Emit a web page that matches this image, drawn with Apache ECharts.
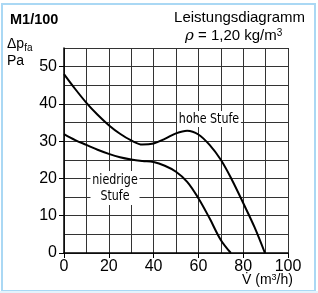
<!DOCTYPE html>
<html><head><meta charset="utf-8">
<script src="https://cdn.jsdelivr.net/npm/echarts@6/dist/echarts.min.js"></script>
<style>html,body{margin:0;padding:0;background:#fff}#c{width:318px;height:293px}</style>
</head><body><div id="c"></div>
<script>
const flowHigh = [0, 5, 10, 15, 20, 25, 30, 35, 40, 45, 50, 55, 60, 65, 70, 75, 80, 85, 89.7];
const presHigh = [48, 44, 40.3, 37.1, 34.3, 32, 30.2, 29.1, 29.4, 30.6, 32.1, 32.8, 31.8, 29, 25, 19.6, 13.4, 7, 0];
const flowLow = [0, 5, 10, 15, 20, 25, 30, 35, 40, 45, 50, 55, 60, 65, 70, 74.5];
const presLow = [31.9, 30.3, 29, 27.7, 26.6, 25.7, 25.1, 24.7, 24.4, 23.4, 21.8, 19.1, 14.7, 9.3, 3.5, 0];
const xTicks = [0, 20, 40, 60, 80, 100];
const yTicks = [0, 10, 20, 30, 40, 50];
const seriesNames = ['hohe Stufe', 'niedrige\nStufe'];

const FONT = 'Liberation Sans, Arial, sans-serif';
const NARROW = 'Liberation Sans Narrow, DejaVu Sans Condensed, sans-serif';
const chart = echarts.init(document.getElementById('c'), null, {renderer: 'canvas'});
const grid = {left: 64, top: 48, width: 224, height: 205};
chart.setOption({
  animation: false,
  backgroundColor: '#fff',
  grid: grid,
  xAxis: [
    {type: 'value', min: 0, max: 100, interval: 10, axisLabel: {show: false}, axisTick: {show: false},
     axisLine: {show: false}, splitLine: {show: true, lineStyle: {color: '#333', width: 1}}},
    {type: 'value', min: 0, max: 100, interval: 20, position: 'bottom',
     axisLine: {show: true, onZero: false, lineStyle: {color: '#000', width: 1.5}},
     axisTick: {show: true, length: 5, lineStyle: {color: '#000'}},
     splitLine: {show: false},
     axisLabel: {show: true, color: '#000', fontFamily: FONT, fontSize: 16, margin: 6,
       formatter: v => xTicks.includes(v) ? String(v) : ''}}
  ],
  yAxis: [
    {type: 'value', min: 0, max: 55, interval: 5, axisLabel: {show: false}, axisTick: {show: false},
     axisLine: {show: false}, splitLine: {show: true, lineStyle: {color: '#333', width: 1}}},
    {type: 'value', min: 0, max: 55, interval: 10, position: 'left',
     axisLine: {show: true, onZero: false, lineStyle: {color: '#000', width: 1.5}},
     axisTick: {show: true, length: 5, lineStyle: {color: '#000'}},
     splitLine: {show: false},
     axisLabel: {show: true, showMaxLabel: false, color: '#000', fontFamily: FONT, fontSize: 16, margin: 7,
       formatter: v => yTicks.includes(v) ? String(v) : ''}}
  ],
  series: [
    {name: seriesNames[0], type: 'line', xAxisIndex: 0, yAxisIndex: 0, smooth: 0.35, symbol: 'none',
     lineStyle: {color: '#000', width: 2}, data: flowHigh.map((x, i) => [x, presHigh[i]])},
    {name: seriesNames[1], type: 'line', xAxisIndex: 0, yAxisIndex: 0, smooth: 0.35, symbol: 'none',
     lineStyle: {color: '#000', width: 2}, data: flowLow.map((x, i) => [x, presLow[i]])}
  ],
  graphic: [
    {type: 'rect', shape: {x: 2, y: 4, width: 313, height: 287}, style: {fill: 'none', stroke: '#aad8f4', lineWidth: 2}, silent: true},
    {type: 'rect', left: 0, top: 291, shape: {x: 0, y: 0, width: 318, height: 2}, style: {fill: '#e3f3fc'}, silent: true},
    {type: 'text', left: 10, top: 12, style: {text: 'M1/100', fontFamily: FONT, fontWeight: 'bold', fontSize: 14.5, fill: '#000'}},
    {type: 'text', right: 13, top: 10, style: {text: 'Leistungsdiagramm', fontFamily: FONT, fontSize: 15, fill: '#000'}},
    {type: 'text', left: 185, top: 28, style: {
      text: '{r|ρ} = 1,20 kg/m{s|3}', fontFamily: FONT, fontSize: 15, fill: '#000',
      rich: {r: {fontFamily: 'DejaVu Serif, serif', fontStyle: 'italic', fontSize: 15}, s: {fontSize: 10, verticalAlign: 'top', padding: [0, 0, 6, 0]}}}},
    {type: 'text', left: 7, top: 37, style: {
      text: 'Δp{s|fa}', fontFamily: FONT, fontSize: 14, fill: '#000',
      rich: {s: {fontSize: 10, padding: [8, 0, 0, 0]}}}},
    {type: 'text', left: 7, top: 54, style: {text: 'Pa', fontFamily: FONT, fontSize: 14, fill: '#000'}},
    {type: 'text', left: 242, top: 273, style: {
      text: 'V̇ (m{s|3}/h)', fontFamily: FONT, fontSize: 14, fill: '#000',
      rich: {s: {fontSize: 9, padding: [0, 0, 6, 0]}}}},
    {type: 'text', x: 209, y: 111, scaleX: 0.88, z: 10, style: {text: seriesNames[0], fontFamily: NARROW, fontSize: 14, fill: '#000',
      align: 'center', backgroundColor: '#fff', padding: [1, 2, 1, 2]}},
    {type: 'text', x: 115, y: 171, scaleX: 0.88, z: 10, style: {text: seriesNames[1], fontFamily: NARROW, fontSize: 14, fill: '#000',
      align: 'center', backgroundColor: '#fff', padding: [1, 2, 1, 2], lineHeight: 16}}
  ]
});
</script></body></html>
